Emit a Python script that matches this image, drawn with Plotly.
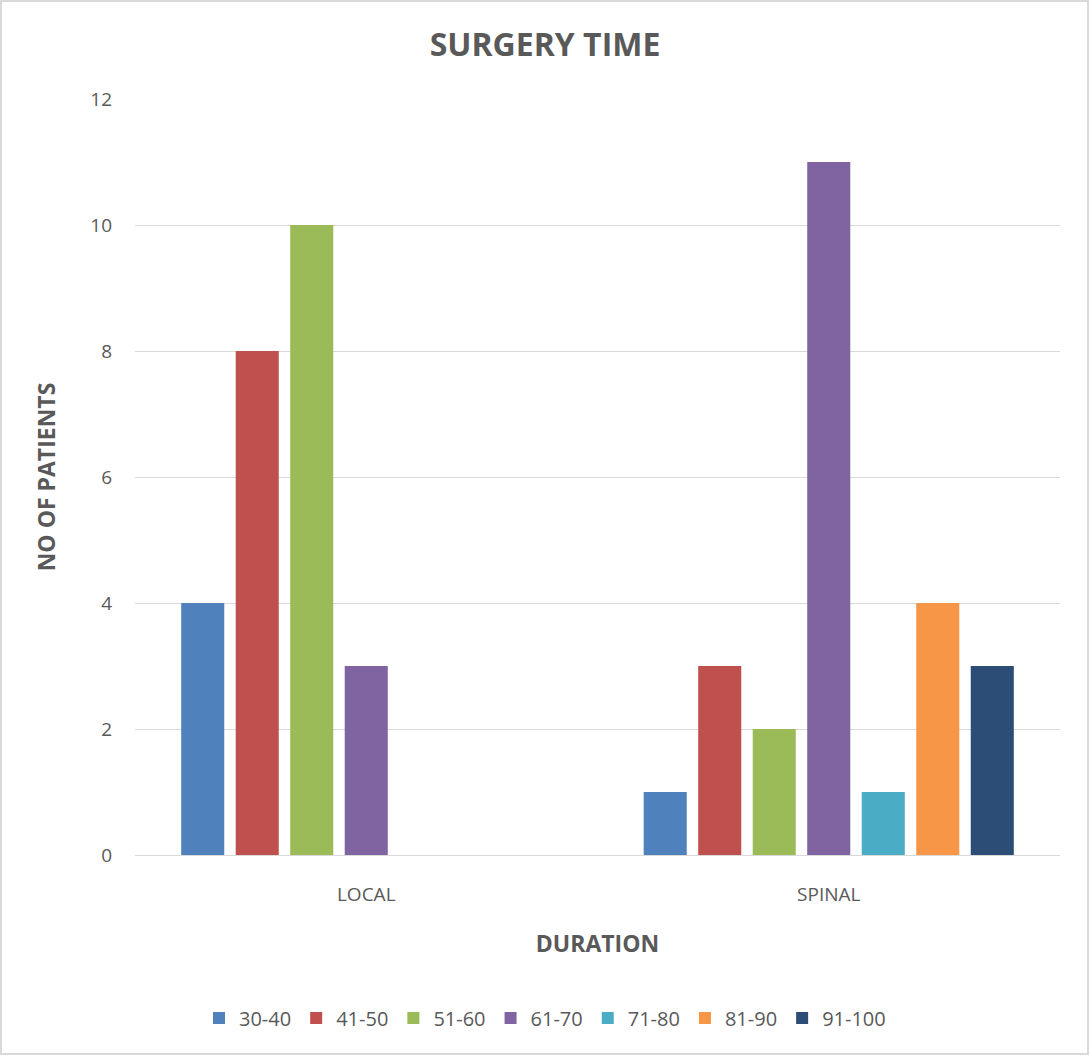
import plotly.graph_objects as go

# Surgery duration groups (minutes) and patient counts per anaesthesia type
categories = ["LOCAL", "SPINAL"]
durations = ["30-40", "41-50", "51-60", "61-70", "71-80", "81-90", "91-100"]
local_counts = [4, 8, 10, 3, None, None, None]
spinal_counts = [1, 3, 2, 11, 1, 4, 3]
colors = ["#4F81BD", "#C0504D", "#9BBB59", "#8064A2", "#4BACC6", "#F79646", "#2C4D75"]

W, H = 1090, 1056
L, R, T, B = 135, 30, 99, 201
FONT = "Open Sans"
TXT = "#595959"

fig = go.Figure()
for i, d in enumerate(durations):
    fig.add_trace(go.Bar(
        name=d,
        x=categories,
        y=[local_counts[i], spinal_counts[i]],
        marker=dict(color=colors[i], line=dict(width=0)),
    ))

pw, ph = W - L - R, H - T - B


def px_x(p):
    return (p - L) / pw


def px_y(p):
    return (H - B - p) / ph


fig.update_layout(
    width=W, height=H,
    margin=dict(l=L, r=R, t=T, b=B),
    paper_bgcolor="white", plot_bgcolor="white",
    font=dict(family=FONT, color=TXT, size=19),
    barmode="group", bargap=0.175, bargroupgap=0.21,
    title=dict(text="<b>SURGERY TIME</b>", x=0.5, xref="container", xanchor="center",
               y=1 - 45 / H, yref="container", yanchor="middle",
               font=dict(size=32, color=TXT, family=FONT)),
    xaxis=dict(
        showgrid=False, showline=True, linecolor="#d9d9d9", linewidth=1,
        ticks="", ticklabelstandoff=22, tickfont=dict(size=19),
        title=dict(text="<b>DURATION</b>", font=dict(size=23, color=TXT), standoff=30),
    ),
    yaxis=dict(
        range=[0, 12], dtick=2, showgrid=True, gridcolor="#d9d9d9", gridwidth=1,
        zeroline=False, showline=False, ticks="", ticklabelstandoff=22,
        tickfont=dict(size=19),
        title=dict(text="<b>NO OF PATIENTS</b>", font=dict(size=23, color=TXT), standoff=28),
    ),
    legend=dict(
        orientation="h", xref="container", x=0.5, xanchor="center",
        yref="container", y=1 - 1018 / H, yanchor="middle",
        font=dict(size=20, color=TXT), itemwidth=30, traceorder="normal",
    ),
    shapes=[dict(
        type="rect", xref="paper", yref="paper", layer="above",
        x0=px_x(1), x1=px_x(1088), y0=px_y(1054), y1=px_y(1),
        line=dict(color="#d9d9d9", width=2), fillcolor="rgba(0,0,0,0)",
    )],
)

fig.write_html("out.html")
